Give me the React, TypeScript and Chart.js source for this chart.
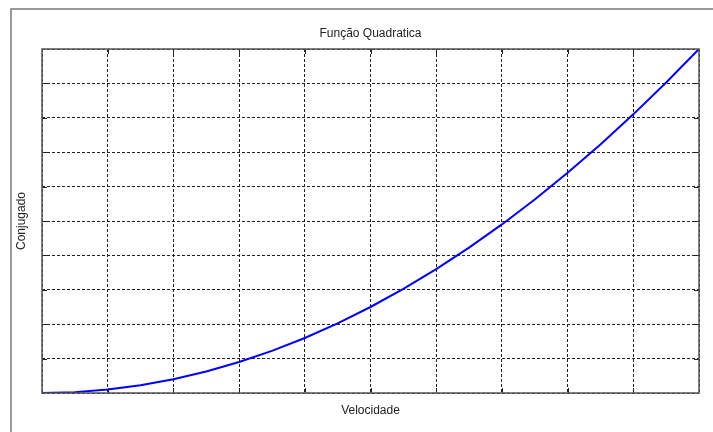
import React, { useEffect, useRef } from "react";
import { Chart, registerables } from "chart.js";

Chart.register(...registerables);

const titleText = "Função Quadratica";
const xLabel = "Velocidade";
const yLabel = "Conjugado";
const velocidade = [0, 0.5, 1, 1.5, 2, 2.5, 3, 3.5, 4, 4.5, 5, 5.5, 6, 6.5, 7, 7.5, 8, 8.5, 9, 9.5, 10];
const conjugado = [0, 0.25, 1, 2.25, 4, 6.25, 9, 12.25, 16, 20.25, 25, 30.25, 36, 42.25, 49, 56.25, 64, 72.25, 81, 90.25, 100];
const xMin = 0, xMax = 10, xStep = 1;
const yMin = 0, yMax = 100, yStep = 10;

const decorPlugin = {
  id: "decor",
  beforeDraw(chart: any) {
    const ctx = chart.ctx;
    ctx.save();
    ctx.fillStyle = "#ffffff";
    ctx.fillRect(0, 0, chart.width, chart.height);
    ctx.strokeStyle = "#7a7a7a";
    ctx.lineWidth = 1.5;
    ctx.beginPath();
    ctx.moveTo(11, chart.height);
    ctx.lineTo(11, 9);
    ctx.lineTo(chart.width, 9);
    ctx.stroke();
    ctx.restore();
  },
  afterDatasetsDraw(chart: any) {
    const ctx = chart.ctx;
    const a = chart.chartArea;
    const xs = chart.scales.x;
    const ys = chart.scales.y;
    ctx.save();
    ctx.strokeStyle = "#222";
    ctx.lineWidth = 1;
    ctx.beginPath();
    for (let v = xMin + xStep; v < xMax; v += xStep) {
      const px = Math.round(xs.getPixelForValue(v)) + 0.5;
      ctx.moveTo(px, a.top);
      ctx.lineTo(px, a.top + 5);
      ctx.moveTo(px, a.bottom);
      ctx.lineTo(px, a.bottom - 5);
    }
    for (let v = yMin + yStep; v < yMax; v += yStep) {
      const py = Math.round(ys.getPixelForValue(v)) + 0.5;
      ctx.moveTo(a.left, py);
      ctx.lineTo(a.left + 5, py);
      ctx.moveTo(a.right, py);
      ctx.lineTo(a.right - 5, py);
    }
    ctx.stroke();
    ctx.strokeStyle = "#555";
    ctx.lineWidth = 1.5;
    ctx.strokeRect(a.left, a.top, a.right - a.left, a.bottom - a.top);
    ctx.fillStyle = "#222";
    ctx.font = "12px 'Liberation Sans', Arial, sans-serif";
    ctx.textAlign = "center";
    ctx.textBaseline = "middle";
    ctx.fillText(titleText, (a.left + a.right) / 2, 34);
    ctx.fillText(xLabel, (a.left + a.right) / 2, 411);
    ctx.translate(22, (a.top + a.bottom) / 2);
    ctx.rotate(-Math.PI / 2);
    ctx.fillText(yLabel, 0, 0);
    ctx.restore();
  },
};

export default function App() {
  const ref = useRef<HTMLCanvasElement>(null);
  useEffect(() => {
    if (!ref.current) return;
    const chart = new Chart(ref.current, {
      type: "line",
      data: {
        datasets: [
          {
            data: velocidade.map((x, i) => ({ x, y: conjugado[i] })),
            borderColor: "#0000ff",
            borderWidth: 2,
            pointRadius: 0,
            fill: false,
            tension: 0,
          },
        ],
      },
      options: {
        animation: false,
        responsive: false,
        layout: { padding: { left: 42, top: 49, right: 14, bottom: 39 } },
        plugins: { legend: { display: false }, tooltip: { enabled: false }, title: { display: false } },
        scales: {
          x: {
            type: "linear",
            min: xMin,
            max: xMax,
            ticks: { display: false, stepSize: xStep },
            grid: { color: "#222", lineWidth: 1, drawTicks: false },
            border: { display: false, dash: [3, 2] },
            afterFit: (s: any) => { s.height = 0; },
          },
          y: {
            type: "linear",
            min: yMin,
            max: yMax,
            ticks: { display: false, stepSize: yStep },
            grid: { color: "#222", lineWidth: 1, drawTicks: false },
            border: { display: false, dash: [3, 2] },
            afterFit: (s: any) => { s.width = 0; },
          },
        },
      },
      plugins: [decorPlugin],
    });
    return () => chart.destroy();
  }, []);
  return (
    <div style={{ position: "fixed", left: 0, top: 0, width: 713, height: 432 }}>
      <canvas ref={ref} width={713} height={432} style={{ display: "block", width: 713, height: 432 }} />
    </div>
  );
}
